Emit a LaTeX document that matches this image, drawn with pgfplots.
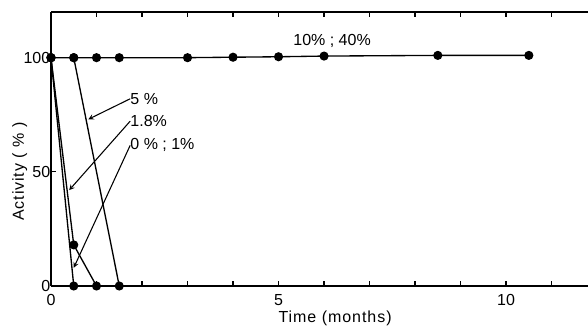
\documentclass[border=0pt]{standalone}
\usepackage{fontspec}
\setmainfont{Liberation Sans}
\newfontfamily\lblfont[LetterSpace=6]{Liberation Sans}
\usepackage{pgfplots}
\pgfplotsset{compat=1.18}
\begin{document}
\begin{tikzpicture}
\begin{axis}[
  width=402.75pt, height=205.5pt, scale only axis,
  xmin=0, xmax=11.8, ymin=0, ymax=120,
  axis x line=box, axis y line=left,
  axis line style={-, line width=1.1pt},
  xtick={0,5,10}, minor xtick={1,2,3,4,6,7,8,9,11},
  ytick={0,50,100},
  tick align=inside,
  major tick length=4pt, minor tick length=4pt,
  every tick/.style={black, line width=0.9pt},
  /pgf/number format/assume math mode=true,
  font=\fontsize{12}{14}\selectfont,
  yticklabel style={xshift=3pt},
  xticklabel style={yshift=-3pt},
  xlabel={\lblfont Time (months)},
  ylabel={\lblfont Activity ( \% )},
  xlabel style={at={(axis description cs:0.529,0)}, anchor=center, yshift=-24pt},
  ylabel style={at={(axis description cs:-0.058,0.417)}, anchor=center},
  clip=false,
]
\addplot[black, line width=1pt, mark=*, mark size=2.9pt] coordinates {
  (0,100) (0.5,100) (1,100) (1.5,100) (3,100) (4,100.2) (5,100.4) (6,100.7) (8.5,101) (10.5,101)
};
\addplot[black, line width=1pt, mark=*, mark size=2.9pt] coordinates {
  (0.5,100) (1.5,0)
};
\addplot[black, line width=1pt, mark=*, mark size=2.9pt] coordinates {
  (0,100) (0.5,18) (1.0,0)
};
\addplot[black, line width=1pt, mark=*, mark size=2.9pt] coordinates {
  (0,100) (0.5,0)
};
\node[anchor=west, inner sep=0pt] at (axis cs:5.32,107.3) {10\% ; 40\%};
\node[anchor=west, inner sep=0pt] (a) at (axis cs:1.74,82) {5 \%};
\node[anchor=west, inner sep=0pt] (b) at (axis cs:1.74,72.2) {1.8\%};
\node[anchor=west, inner sep=0pt] (c) at (axis cs:1.74,61.6) {0 \% ; 1\%};
\draw[->, >=stealth, line width=0.8pt] (a.west) -- (axis cs:0.82,73);
\draw[->, >=stealth, line width=0.8pt] (b.west) -- (axis cs:0.40,42);
\draw[->, >=stealth, line width=0.8pt] (c.west) -- (axis cs:0.50,8);
\coordinate (bl) at (axis description cs:0,0);
\coordinate (tr) at (axis description cs:1,1);
\end{axis}
\pgfresetboundingbox
\useasboundingbox ([xshift=-38.25pt,yshift=-30pt]bl) rectangle ([yshift=9pt]tr);
\end{tikzpicture}
\end{document}
